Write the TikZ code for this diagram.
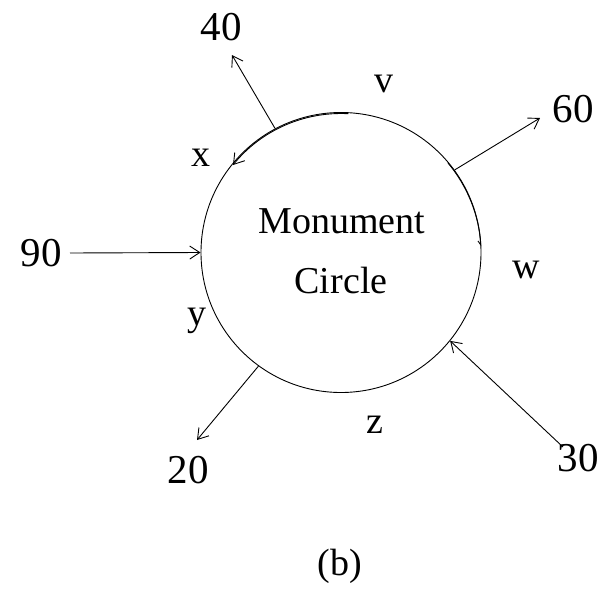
\documentclass[tikz,border=0pt]{standalone}
\usepackage{fontspec}
\setmainfont{Liberation Serif}
\usetikzlibrary{arrows.meta}
\begin{document}
\begin{tikzpicture}[x=1pt,y=1pt,
  lbl/.style={anchor=base, inner sep=0pt, font=\fontsize{38}{38}\selectfont},
  num/.style={lbl, font=\fontsize{41}{41}\selectfont},
  ln/.style={line width=0.9pt},
  flow/.style={ln, -{Straight Barb[length=10pt,width=13pt,line width=0.9pt]}}]
\useasboundingbox (0,0) rectangle (606,-597);
\node[circle, draw, ln, minimum size=280pt, inner sep=0pt] (mc) at (341,-252.5) {};
\node[lbl] (t1) at (342,-233) {Monument};
\node[lbl] (t2) at (341,-293) {Circle};
% coordinates of free ends
\coordinate (e40) at (232,-55);
\coordinate (e60) at (540,-118);
\coordinate (e90) at (70,-253);
\coordinate (e20) at (197,-440);
\coordinate (e30) at (563,-447);
\draw[flow] (mc.118) -- (e40);
\draw[flow] (mc.36) -- (e60);
\draw[flow] (e90) -- (mc.180);
\draw[flow] (mc.234) -- (e20);
\draw[flow] (e30) -- (mc.-39);
% flow arcs along the circle
\draw[flow] ([shift={(87:139)}]mc.center) arc[start angle=87, end angle=141, radius=139];
\draw[ln, -{Straight Barb[right,length=4pt,width=5pt,line width=0.9pt]}] ([shift={(40:139.5)}]mc.center) arc[start angle=40, end angle=3, radius=141.5];
% labels
\node[num] (l40) at (221,-40) {40};
\node[lbl] (lv) at (384,-92) {v};
\node[num] (l60) at (573,-122) {60};
\node[lbl] (lx) at (201,-166) {x};
\node[num] (l90) at (41,-266) {90};
\node[lbl] (lw) at (526,-278) {w};
\node[lbl] (ly) at (197,-325) {y};
\node[num] (l20) at (188,-483) {20};
\node[lbl] (lz) at (375,-433) {z};
\node[num] (l30) at (578,-471) {30};
\node[lbl] (lb) at (340,-575) {(b)};
\end{tikzpicture}
\end{document}
